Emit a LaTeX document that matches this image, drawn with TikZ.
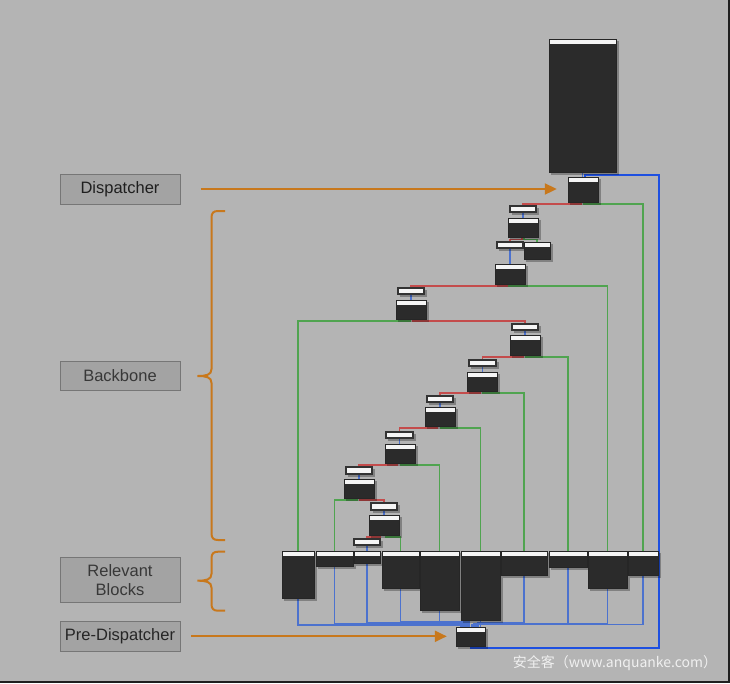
\documentclass[tikz,border=0pt]{standalone}
\usepackage{fontspec}
\setmainfont{Liberation Sans}
\newfontfamily\cjkfont{Noto Sans CJK SC}
\usetikzlibrary{arrows.meta,fit}
\pgfdeclarelayer{bg}
\pgfdeclarelayer{edges}
\pgfsetlayers{bg,edges,main}
\definecolor{bgc}{RGB}{180,180,180}
\definecolor{blkc}{RGB}{43,43,43}
\definecolor{hdrc}{RGB}{245,245,245}
\definecolor{redc}{RGB}{196,76,76}
\definecolor{grnc}{RGB}{80,164,80}
\definecolor{bluec}{RGB}{76,114,206}
\definecolor{bluem}{RGB}{30,80,225}
\definecolor{orc}{RGB}{200,120,28}
\definecolor{labf}{RGB}{163,163,163}
\definecolor{labd}{RGB}{118,118,118}
\newcommand\dblk[5]{%
  \fill[black,opacity=0.28] (#2+2,#3+2) rectangle (#4+3,#5+3);
  \node[fit={(#2,#3) (#4,#5)},inner sep=0pt,fill=blkc] (#1) {};
  \fill[hdrc] (#2,#3) rectangle (#4,#3+4.8);
  \draw[line width=1pt,black!85] (#2,#3) rectangle (#4,#5);
}
\newcommand\wblk[5]{%
  \fill[black,opacity=0.28] (#2+2,#3+2) rectangle (#4+3,#5+3);
  \node[fit={(#2,#3) (#4,#5)},inner sep=0pt,fill=hdrc,draw=black!80,line width=1.3pt] (#1) {};
}
\newcommand\brc[3]{%
  \draw[orc,line width=2pt] (225,#1) -- (218,#1) .. controls (213.5,#1) and (211.5,#1+2) .. (211.5,#1+6.5)
   -- (211.5,#2-7) .. controls (211.5,#2-1) and (206,#2) .. (197.5,#2)
   .. controls (206,#2) and (211.5,#2+1) .. (211.5,#2+7)
   -- (211.5,#3-6.5) .. controls (211.5,#3-2) and (213.5,#3) .. (218,#3) -- (225,#3);
}
\tikzset{
  rl/.style={draw=redc,line width=1.6pt},
  gl/.style={draw=grnc,line width=1.6pt},
  bl/.style={draw=bluec,line width=1.4pt},
  bm/.style={draw=bluem,line width=2pt},
  labst/.style={draw=labd,fill=labf,line width=1pt,minimum width=120pt,inner sep=0pt,
    font=\fontsize{16.5}{19.5}\selectfont,align=center},
  oarrow/.style={draw=orc,line width=2pt,-{Triangle[length=12pt,width=11pt]}}
}
\begin{document}
\begin{tikzpicture}[x=1pt,y=-1pt]
\useasboundingbox (0,0) rectangle (730,683);
\begin{pgfonlayer}{bg}
\fill[bgc] (0,0) rectangle (730,683);
\fill[black!88] (727.8,0) rectangle (730,683);
\fill[black!88] (0,680.5) rectangle (730,683);
\end{pgfonlayer}

% blocks
\dblk{top}{549}{39}{616}{172}
\dblk{disp}{568}{177}{598}{202}
\wblk{w1}{510}{206}{536}{212}
\dblk{b1}{508}{218}{538}{237}
\wblk{w2}{497}{242}{523}{248}
\dblk{x1}{524}{242}{550}{259}
\dblk{b2}{495}{264}{525}{284}
\wblk{w3}{398}{288}{424}{294}
\dblk{b3}{396}{300}{426}{319}
\wblk{w4}{512}{324}{538}{330}
\dblk{b4}{510}{335}{540}{355}
\wblk{w5}{469}{360}{496}{366}
\dblk{b5}{467}{372}{497}{391}
\wblk{w6}{427}{396}{453}{402}
\dblk{b6}{425}{407}{455}{426}
\wblk{w7}{386}{432}{413}{438}
\dblk{b7}{385}{444}{415}{463}
\wblk{w8}{346}{467}{372}{474}
\dblk{b8}{344}{479}{374}{498}
\wblk{w9}{371}{503}{397}{510}
\dblk{b9}{369}{515}{399}{535}
\wblk{w10}{354}{539}{380}{545}
% relevant blocks
\dblk{r1}{282}{551}{314}{598}
\dblk{r2}{316}{551}{353}{566}
\dblk{r3}{354}{551}{380}{563}
\dblk{r4}{382}{551}{419}{588}
\dblk{r5}{420}{551}{459}{610}
\dblk{r6}{461}{551}{500}{620}
\dblk{r7}{501}{551}{547}{575}
\dblk{r8}{549}{551}{587}{567}
\dblk{r9}{588}{551}{627}{588}
\dblk{r10}{628}{551}{658}{575}
\dblk{pre}{456}{627}{485}{646}

\coordinate (loopR) at (659,174.5);

\begin{pgfonlayer}{edges}
\draw[bl] (top.south) -- (top.south |- disp.north);
\draw[bm] (pre.south) -- ++(0,2) -| (loopR) -| ([xshift=2pt]disp.north);
\draw[rl] ([xshift=-2pt]disp.south) -- ++(0,1.7) -| (w1.north);
\draw[gl] ([xshift=1pt]disp.south) -- ++(0,1.7) -| (r10.north);
\draw[bl] (w1.south) -- (w1.south |- b1.north);
\draw[rl] ([xshift=-1pt]b1.south) -- ++(0,2.3) -| (w2.north);
\draw[gl] ([xshift=1pt]b1.south) -- ++(0,2.3) -| (x1.north);
\draw[bl] (w2.south) -- (w2.south |- b2.north);
\draw[rl] ([xshift=-3pt]b2.south) -- ++(0,1.7) -| (w3.north);
\draw[gl] ([xshift=-1pt]b2.south) -- ++(0,1.7) -| (r9.north);
\draw[bl] (w3.south) -- (w3.south |- b3.north);
\draw[rl] ([xshift=2pt]b3.south) -- ++(0,2) -| (w4.north);
\draw[gl] ([xshift=-1pt]b3.south) -- ++(0,2) -| (r1.north);
\draw[bl] (w4.south) -- (w4.south |- b4.north);
\draw[rl] ([xshift=-2pt]b4.south) -- ++(0,1.7) -| (w5.north);
\draw[gl] ([xshift=1pt]b4.south) -- ++(0,1.7) -| (r8.north);
\draw[bl] (w5.south) -- (w5.south |- b5.north);
\draw[rl] ([xshift=-2pt]b5.south) -- ++(0,1.7) -| (w6.north);
\draw[gl] ([xshift=1pt]b5.south) -- ++(0,1.7) -| (r7.north);
\draw[bl] (w6.south) -- (w6.south |- b6.north);
\draw[rl] ([xshift=-3pt]b6.south) -- ++(0,2) -| (w7.north);
\draw[gl] ([xshift=1pt]b6.south) -- ++(0,2) -| (r6.north);
\draw[bl] (w7.south) -- (w7.south |- b7.north);
\draw[rl] ([xshift=-3pt]b7.south) -- ++(0,2) -| (w8.north);
\draw[gl] ([xshift=1pt]b7.south) -- ++(0,2) -| (r5.north);
\draw[bl] (w8.south) -- (w8.south |- b8.north);
\draw[rl] ([xshift=1pt]b8.south) -- ++(0,2) -| (w9.north);
\draw[gl] ([xshift=-2pt]b8.south) -- ++(0,2) -| (r2.north);
\draw[bl] (w9.south) -- (w9.south |- b9.north);
\draw[rl] ([xshift=-4pt]b9.south) -- ++(0,1.5) -| (w10.north);
\draw[gl] ([xshift=2pt]b9.south) -- ++(0,1.5) -| (r4.north);
\draw[bl] (w10.south) -- (w10.south |- r3.north);
% relevant -> pre-dispatcher
\draw[bl] (r1.south) -- ++(0,26.6) -| ([xshift=-9.5pt]pre.north);
\draw[bl] (r2.south) -- ++(0,57.6) -| ([xshift=-7.5pt]pre.north);
\draw[bl] (r3.south) -- ++(0,59.6) -| ([xshift=-5.5pt]pre.north);
\draw[bl] (r4.south) -- ++(0,33.7) -| ([xshift=-3.5pt]pre.north);
\draw[bl] (r5.south) -- ++(0,11.3) -| ([xshift=-1.5pt]pre.north);
\draw[bl] (r6.south) -- (r6.south |- pre.north);
\draw[bl] (r7.south) -- ++(0,47) -| ([xshift=7.5pt]pre.north);
\draw[bl] (r8.south) -- ++(0,56) -| ([xshift=5.5pt]pre.north);
\draw[bl] (r9.south) -- ++(0,35.7) -| ([xshift=3.5pt]pre.north);
\draw[bl] (r10.south) -- ++(0,49.4) -| ([xshift=1.5pt]pre.north);
\end{pgfonlayer}

% labels
\node[labst,minimum height=30pt,text=black!88] (ldisp) at (120,189) {Dispatcher};
\node[labst,minimum height=29pt,text=black!78] (lback) at (120,375.5) {Backbone};
\node[labst,minimum height=44.7pt,text=black!78] (lrel) at (120,580.3) {Relevant\\Blocks};
\node[labst,minimum height=30pt,text=black!85] (lpre) at (120,636.3) {Pre-Dispatcher};

\draw[oarrow] ([xshift=20pt]ldisp.east) -- ([xshift=-11pt]disp.west |- ldisp.east);
\draw[oarrow] ([xshift=10.5pt]lpre.east) -- ([xshift=-9pt]pre.west |- lpre.east);
\brc{211}{376}{540}
\brc{551.7}{580.7}{610.7}

\node[text=white!94!black,font=\cjkfont\fontsize{14}{16}\selectfont,inner sep=0pt] (wm) at (615,663) {安全客（www.anquanke.com）};
\end{tikzpicture}
\end{document}
